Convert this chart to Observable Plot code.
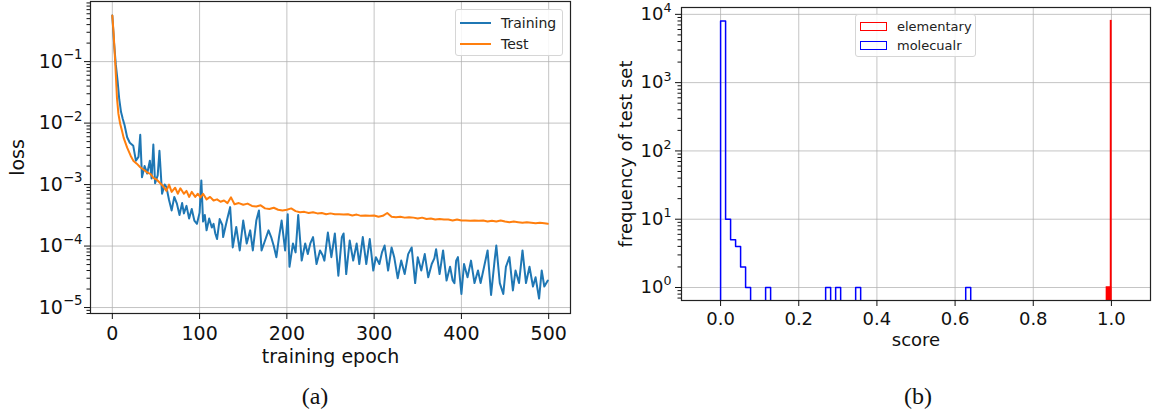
<!DOCTYPE html>
<html><head><meta charset="utf-8">
<script src="https://cdn.jsdelivr.net/npm/d3@7"></script>
<script src="https://cdn.jsdelivr.net/npm/@observablehq/plot@0.6"></script>
<style>
body{margin:0;background:#fff;}
#wrap{position:relative;width:1154px;height:419px;overflow:hidden;font-family:"DejaVu Sans",sans-serif;background:#fff;}
.panel{position:absolute;top:0;}
.legend{position:absolute;background:rgba(255,255,255,0.85);border:1px solid #d6d6d6;border-radius:3px;box-sizing:border-box;}
.legend .row{position:absolute;white-space:nowrap;color:#222;}
.caption{position:absolute;font-family:"Liberation Serif","Times New Roman",serif;font-size:24px;color:#111;}
</style></head><body><div id="wrap"></div>
<script>
// ---------- panel (a): loss curves ----------
const trainEpoch = [0,2,4,6,8,10,12,14,17,20,24,27,30,32,34,37,40,43,45,47,49,52,54,57,60,62,65,68,71,74,77,80,82,85,88,91,94,97,100,102,104,106,108,111,114,116,118,120,123,126,127,131,135,138,142,146,150,154,158,161,165,168,171,175,179,182,185,188,191,194,198,201,203,207,210,213,217,221,224,227,230,234,238,241,243,247,251,255,259,263,265,268,272,276,280,283,287,291,295,299,302,306,309,312,316,320,323,327,331,335,339,343,347,350,354,358,362,366,369,371,375,379,383,387,390,392,394,396,400,403,407,411,415,419,422,426,430,434,438,440,444,448,451,455,459,462,466,470,474,478,482,485,489,492,495,499];
const trainLoss = [0.562,0.200,0.0891,0.0490,0.0240,0.0151,0.0117,0.00933,0.00589,0.00479,0.00427,0.00245,0.00282,0.00646,0.00132,0.00200,0.00151,0.00245,0.00126,0.00447,0.00105,0.00141,0.00355,0.000708,0.00100,0.00091,0.00056,0.00038,0.00063,0.00049,0.00032,0.00050,0.00034,0.00045,0.00028,0.00040,0.00026,0.00023,0.00035,0.00117,0.00025,0.00032,0.00018,0.00028,0.00020,0.00023,0.00016,0.00013,0.000275,0.00022,0.00014,0.00025,0.00043,0.000095,0.000205,0.000085,0.00026,0.00011,0.00018,0.000085,0.00026,0.00038,0.000085,0.000123,0.00018,0.00014,0.00010,0.000066,0.00014,0.00026,0.000085,0.00033,0.000046,0.00011,0.000079,0.00032,0.000058,0.00011,0.000074,0.000112,0.00014,0.000051,0.000085,0.000071,0.000058,0.000166,0.000066,0.00016,0.000033,0.00014,0.00016,0.000035,0.000123,0.000058,0.00011,0.000051,0.00014,0.000051,0.00013,0.00004,0.000066,0.000051,0.000079,0.000102,0.00004,0.000095,0.000066,0.00003,0.000058,0.000035,0.000074,0.000095,0.000025,0.000066,0.00004,0.000074,0.000031,0.000051,0.000063,0.000089,0.000035,0.000085,0.0000275,0.000046,0.0000275,0.000025,0.000058,0.000066,0.0000166,0.000051,0.000031,0.000058,0.000025,0.00004,0.000025,0.000046,0.000085,0.000016,0.000058,0.000102,0.000025,0.0000166,0.000046,0.000066,0.000019,0.00004,0.000025,0.000085,0.000025,0.000046,0.000022,0.000031,0.000014,0.00004,0.000022,0.0000275];
const testEpoch = [0,1.5,3.4,5.3,7,9,11,13,17,21,24,28,32,36,40,44,47,51,55,58,62,65,68,72,75,78,82,85,88,91,95,98,101,104,108,112,116,120,124,128,132,136,140,145,150,155,160,165,170,175,180,185,190,195,200,205,210,215,220,225,230,235,240,245,250,255,260,265,270,275,280,285,290,295,300,305,310,315,320,325,330,335,340,345,350,355,360,365,370,375,380,385,390,395,400,405,410,415,420,425,430,435,440,445,450,455,460,465,470,475,480,485,490,495,499];
const testLoss = [0.562,0.285,0.0933,0.0260,0.0141,0.00977,0.00759,0.00575,0.00398,0.00295,0.00245,0.00219,0.00191,0.00174,0.00158,0.00148,0.00129,0.00120,0.00105,0.00095,0.00079,0.00100,0.00076,0.00089,0.00071,0.00087,0.00071,0.00079,0.00063,0.00076,0.00063,0.00071,0.00062,0.00071,0.000575,0.00063,0.00055,0.000575,0.000525,0.00055,0.00050,0.00062,0.00048,0.00050,0.00047,0.00049,0.00045,0.00044,0.00046,0.00041,0.00040,0.00042,0.00039,0.00038,0.00039,0.00041,0.00037,0.000355,0.00036,0.000345,0.000355,0.00034,0.000345,0.00033,0.00034,0.00033,0.00033,0.000325,0.00033,0.000315,0.000325,0.00031,0.000315,0.00031,0.000315,0.00030,0.00031,0.000345,0.00030,0.000295,0.00030,0.00029,0.000295,0.00029,0.00028,0.00029,0.000275,0.00028,0.00027,0.000275,0.00027,0.00027,0.00026,0.00027,0.00026,0.00026,0.000257,0.00026,0.000257,0.00026,0.00025,0.000257,0.00025,0.00026,0.00025,0.000245,0.00025,0.000245,0.00024,0.000245,0.00024,0.000235,0.00024,0.000235,0.00023];
const seriesNames = ["Training", "Test"];
const seriesColors = ["#1f77b4", "#ff7f0e"];
const epochTicks = [0, 100, 200, 300, 400, 500];
const lossTicks = [1e-5, 1e-4, 1e-3, 1e-2, 1e-1];

// ---------- panel (b): score histogram ----------
const molecularRange = [0, 0.64];
const molecularCounts = [7960,10,5,4,2,1,0,0,0,1, 0,0,0,0,0,0,0,0,0,0, 0,1,0,1,0,0,0,1,0,0, 0,0,0,0,0,0,0,0,0,0, 0,0,0,0,0,0,0,0,0,1];
const elementaryStart = [0.9885, 0.9990];
const elementaryEnd = [0.9990, 1.0];
const elementaryCounts = [1, 7950];
const histNames = ["elementary", "molecualr"];
const histColors = ["#ff0000", "#0000ff"];
const scoreTicks = [0, 0.2, 0.4, 0.6, 0.8, 1.0];
const freqTicks = [1, 10, 100, 1000, 10000];

// ---------- helpers ----------
const sup = d => {
  const e = Math.round(Math.log10(d));
  return "10^" + String(e).replace("-", "\u2212");
};
function minorLog(lo, hi) {
  const out = [];
  for (let k = Math.floor(Math.log10(lo)); k <= Math.ceil(Math.log10(hi)); k++)
    for (let m = 2; m <= 9; m++) { const v = m * Math.pow(10, k); if (v >= lo && v <= hi) out.push(v); }
  return out;
}
function superscripts(svg) {
  d3.select(svg).selectAll('g[aria-label="y-axis tick label"] text').each(function () {
    const s = this.textContent;
    if (!s.includes("^")) return;
    const [base, exp] = s.split("^");
    while (this.firstChild) this.removeChild(this.firstChild);
    const t = d3.select(this);
    t.append("tspan").text(base);
    t.append("tspan").attr("font-size", "0.7em").attr("dy", "-0.62em").text(exp);
  });
}
const gridStyle = {stroke: "#b0b0b0", strokeOpacity: 0.75, strokeWidth: 1};

const wrap = document.getElementById("wrap");

// ---------- draw panel (a) ----------
const train = trainEpoch.map((e, i) => ({epoch: e, loss: trainLoss[i]}));
const test = testEpoch.map((e, i) => ({epoch: e, loss: testLoss[i]}));
const yDomA = [8e-6, 0.95];
const plotA = Plot.plot({
  width: 580, height: 380,
  marginLeft: 90, marginRight: 10, marginTop: 1, marginBottom: 67,
  style: {fontFamily: "DejaVu Sans, sans-serif", fontSize: "19px", color: "#111", background: "transparent"},
  x: {domain: [-25, 525]},
  y: {type: "log", domain: yDomA},
  marks: [
    Plot.gridX(epochTicks, gridStyle),
    Plot.gridY(lossTicks, gridStyle),
    Plot.line(train, {x: "epoch", y: "loss", stroke: seriesColors[0], strokeWidth: 2, clip: true}),
    Plot.line(test, {x: "epoch", y: "loss", stroke: seriesColors[1], strokeWidth: 2, clip: true}),
    Plot.frame({stroke: "#222", strokeWidth: 1.2}),
    Plot.axisX(epochTicks, {tickSize: 6, tickPadding: 7, label: "training epoch", labelAnchor: "center", labelOffset: 49, labelArrow: "none"}),
    Plot.axisY(minorLog(yDomA[0], yDomA[1]), {tickSize: 3.5, tickFormat: () => "", label: null}),
    Plot.axisY(lossTicks, {tickSize: 6, tickPadding: 2, tickFormat: sup, label: "loss", labelAnchor: "center", labelOffset: 80, labelArrow: "none"})
  ]
});
superscripts(plotA);
plotA.classList.add("panel");
plotA.style.left = "0px";
wrap.appendChild(plotA);

// ---------- draw panel (b) ----------
const yDomB = [0.645, 12600];
const floorB = 0.1;
const nb = molecularCounts.length;
const bw = (molecularRange[1] - molecularRange[0]) / nb;
const molStep = [{score: molecularRange[0], count: floorB}];
molecularCounts.forEach((c, i) => {
  const v = c > 0 ? c : floorB;
  molStep.push({score: molecularRange[0] + i * bw, count: v});
  molStep.push({score: molecularRange[0] + (i + 1) * bw, count: v});
});
molStep.push({score: molecularRange[1], count: floorB});
const elem = elementaryStart.map((s, i) => ({x1: s, x2: elementaryEnd[i], y1: floorB, y2: elementaryCounts[i]}));

const plotB = Plot.plot({
  width: 574, height: 380,
  marginLeft: 101, marginRight: 4, marginTop: 7, marginBottom: 80,
  style: {fontFamily: "DejaVu Sans, sans-serif", fontSize: "18px", color: "#111", background: "transparent"},
  x: {domain: [-0.1, 1.1]},
  y: {type: "log", domain: yDomB},
  marks: [
    Plot.gridX(scoreTicks, gridStyle),
    Plot.gridY(freqTicks, gridStyle),
    Plot.rect(elem, {x1: "x1", x2: "x2", y1: "y1", y2: "y2", fill: histColors[0], stroke: histColors[0], strokeWidth: 1.5, clip: true}),
    Plot.line(molStep, {x: "score", y: "count", stroke: histColors[1], strokeWidth: 1.5, clip: true}),
    Plot.frame({stroke: "#222", strokeWidth: 1.2}),
    Plot.axisX(scoreTicks, {tickSize: 6, tickPadding: 6, tickFormat: d3.format(".1f"), label: "score", labelAnchor: "center", labelOffset: 45, labelArrow: "none"}),
    Plot.axisY(minorLog(yDomB[0], yDomB[1]), {tickSize: 3.5, tickFormat: () => "", label: null}),
    Plot.axisY(freqTicks, {tickSize: 6, tickPadding: 4, tickFormat: sup, label: "frequency of test set", labelAnchor: "center", labelOffset: 62, labelArrow: "none"})
  ]
});
superscripts(plotB);
plotB.classList.add("panel");
plotB.style.left = "580px";
wrap.appendChild(plotB);

// ---------- legends ----------
function addLegend(left, top, w, h, items, kind, fontSize, textLeft, rowTops) {
  const lg = document.createElement("div");
  lg.className = "legend";
  Object.assign(lg.style, {left: left + "px", top: top + "px", width: w + "px", height: h + "px"});
  items.forEach((it, i) => {
    const row = document.createElement("div");
    row.className = "row";
    row.style.top = rowTops[i] + "px";
    row.style.left = "4px";
    row.style.fontSize = fontSize + "px";
    row.style.lineHeight = "20px";
    row.style.height = "20px";
    const sw = document.createElement("span");
    sw.style.display = "inline-block";
    sw.style.verticalAlign = "middle";
    if (kind === "line") {
      Object.assign(sw.style, {width: "31px", height: "2px", background: it.color, marginRight: (textLeft - 35) + "px"});
    } else {
      Object.assign(sw.style, {width: "25px", height: "7px", border: "1.3px solid " + it.color, marginRight: (textLeft - 32) + "px"});
    }
    const tx = document.createElement("span");
    tx.textContent = it.name;
    tx.style.verticalAlign = "middle";
    row.appendChild(sw); row.appendChild(tx);
    lg.appendChild(row);
  });
  wrap.appendChild(lg);
}
addLegend(455, 9, 108, 47, seriesNames.map((n, i) => ({name: n, color: seriesColors[i]})), "line", 14, 45, [2, 23]);
addLegend(855, 14, 121, 43, histNames.map((n, i) => ({name: n, color: histColors[i]})), "patch", 13, 42, [1, 20]);

// ---------- captions ----------
const captions = [["(a)", 315], ["(b)", 918]];
captions.forEach(([t, cx]) => {
  const c = document.createElement("div");
  c.className = "caption";
  c.textContent = t;
  c.style.top = "383px";
  c.style.left = (cx - 40) + "px";
  c.style.width = "80px";
  c.style.textAlign = "center";
  wrap.appendChild(c);
});
</script></body></html>
